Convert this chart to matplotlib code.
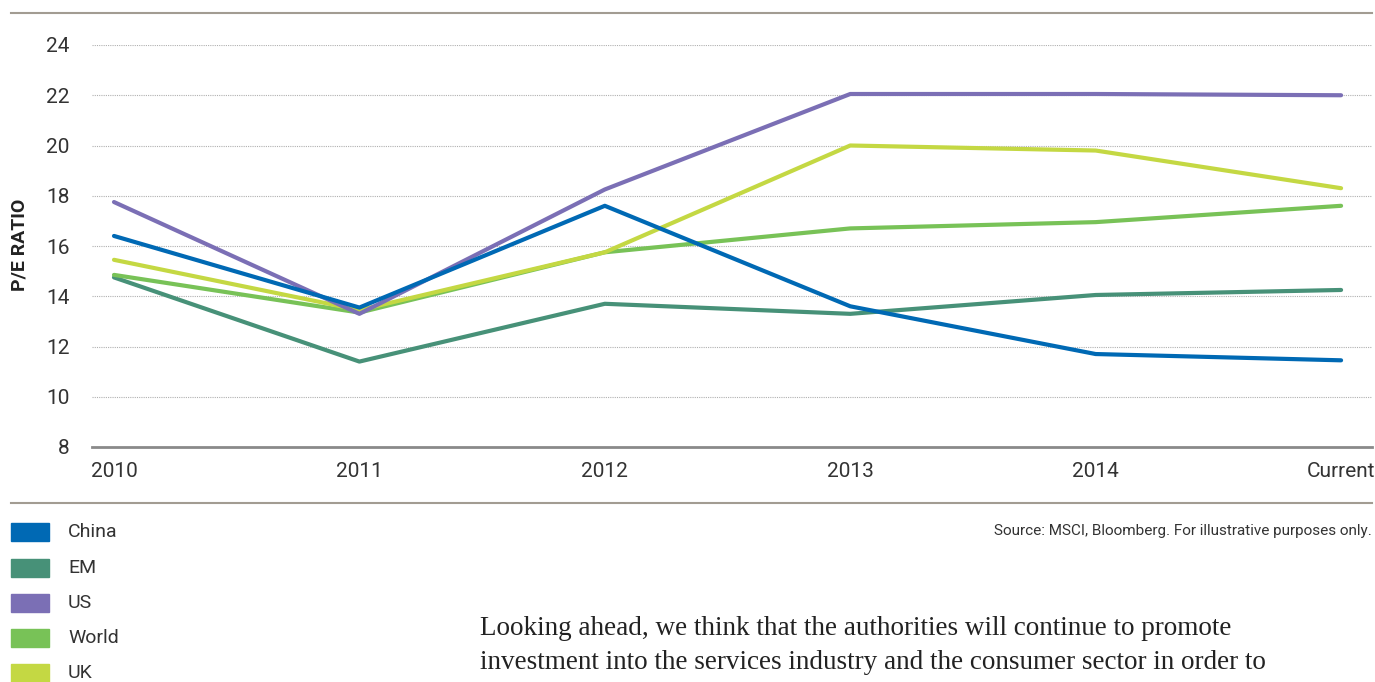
import matplotlib
matplotlib.use("Agg")
import matplotlib.pyplot as plt
from matplotlib.patches import Rectangle
from matplotlib.lines import Line2D

plt.rcParams['font.family'] = ['Roboto', 'DejaVu Sans']

categories = ["2010", "2011", "2012", "2013", "2014", "Current"]
series_names = ["China", "EM", "US", "World", "UK"]
china = [16.4, 13.55, 17.6, 13.6, 11.7, 11.45]
em = [14.75, 11.4, 13.7, 13.3, 14.05, 14.25]
us = [17.75, 13.3, 18.25, 22.05, 22.05, 22.0]
world = [14.85, 13.35, 15.75, 16.7, 16.95, 17.6]
uk = [15.45, 13.45, 15.75, 20.0, 19.8, 18.3]
colors = ["#0069b4", "#479178", "#7b6fb5", "#78c257", "#c4d843"]
yticks = [8, 10, 12, 14, 16, 18, 20, 22, 24]

W, H = 1375, 682
fig = plt.figure(figsize=(W / 100, H / 100), dpi=100)

def fx(px):
    return px / W

def fy(py):
    return 1 - py / H

ax = fig.add_axes([fx(92), fy(447), fx(1372) - fx(92), fy(45) - fy(447)])
x = list(range(len(categories)))
data = [china, em, us, world, uk]
for i in [1, 3, 4, 2, 0]:
    ax.plot(x, data[i], color=colors[i], lw=3.0, solid_capstyle='round',
            solid_joinstyle='round', zorder=3)

ax.set_ylim(8, 24)
ax.set_xlim(-0.0896, 5.126)
ax.set_yticks(yticks)
ax.set_xticks(x)
ax.set_xticklabels(categories)
for s in ['top', 'right', 'left']:
    ax.spines[s].set_visible(False)
ax.spines['bottom'].set_color('#8a8a8a')
ax.spines['bottom'].set_linewidth(2)
ax.grid(axis='y', color='#b0b0b0', linestyle=(0, (1, 1)), linewidth=0.8)
ax.set_axisbelow(True)
ax.tick_params(axis='both', length=0, labelsize=15, colors='#333333')
ax.tick_params(axis='y', pad=16)
ax.tick_params(axis='x', pad=11)

fig.text(fx(20), fy(245), "P/E RATIO", fontsize=14, fontweight='bold', color='#222222',
         rotation=90, ha='center', va='center')

# top and bottom rules
fig.add_artist(Line2D([fx(11), fx(1372)], [fy(13), fy(13)], color='#a29c92', lw=1.5))
fig.add_artist(Line2D([fx(11), fx(1372)], [fy(503), fy(503)], color='#a29c92', lw=1.5))

# legend
legend_y = [532, 568, 603, 638, 673]
for name, c, yy in zip(series_names, colors, legend_y):
    fig.add_artist(Rectangle((fx(11), fy(yy + 9)), fx(49) - fx(11), fy(yy - 9) - fy(yy + 9),
                             color=c, transform=fig.transFigure))
    fig.text(fx(68), fy(yy), name, fontsize=14, color='#333333', va='center', ha='left')

fig.text(fx(1372), fy(531), "Source: MSCI, Bloomberg. For illustrative purposes only.",
         fontsize=11, color='#333333', ha='right', va='center')

body = ["Looking ahead, we think that the authorities will continue to promote",
        "investment into the services industry and the consumer sector in order to"]
for i, line in enumerate(body):
    fig.text(fx(480), fy(635 + 34 * i), line, fontsize=19.5, color='#222222',
             ha='left', va='baseline', family=['Liberation Serif', 'DejaVu Serif'])

fig.savefig("out.png", dpi=100)
